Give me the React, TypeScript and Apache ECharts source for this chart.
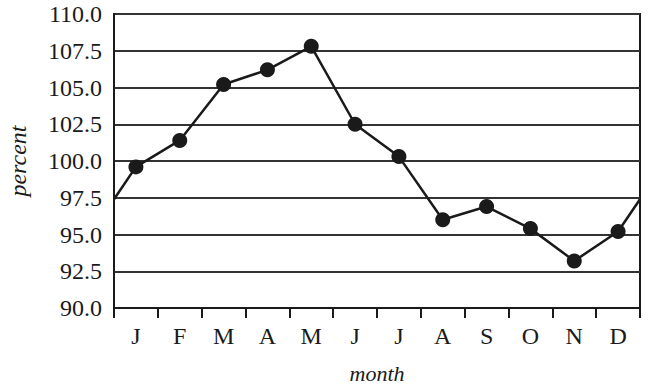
import React, { useEffect, useRef } from "react";
import * as echarts from "echarts";

const months = ["J", "F", "M", "A", "M", "J", "J", "A", "S", "O", "N", "D"];
const values = [99.6, 101.4, 105.2, 106.2, 107.8, 102.5, 100.3, 96.0, 96.9, 95.4, 93.2, 95.2];
// wrap-around value at the left (start of J) and right (end of D) edges
const edgeStart = 97.4;
const edgeEnd = 97.4;
const yTicks = { min: 90, max: 110, interval: 2.5 };

export default function App() {
  const ref = useRef<HTMLDivElement>(null);
  useEffect(() => {
    if (!ref.current) return;
    const chart = echarts.init(ref.current, undefined, { renderer: "svg" });
    const pts: [number, number][] = [[0, edgeStart]];
    values.forEach((v, i) => pts.push([i + 0.5, v]));
    pts.push([months.length, edgeEnd]);
    const font = "'Liberation Serif', 'DejaVu Serif', serif";
    const ink = "#1a1a1a";
    chart.setOption({
      animation: false,
      grid: {
        left: 114, right: 9, top: 14, bottom: 81,
        show: true, borderColor: ink, borderWidth: 2,
        outerBoundsMode: "none", containLabel: false,
      },
      xAxis: [
        {
          type: "value",
          min: 0,
          max: months.length,
          interval: 1,
          axisLine: { show: true, lineStyle: { color: ink, width: 2 } },
          axisTick: { show: true, length: 10, lineStyle: { color: ink, width: 2 } },
          axisLabel: { show: false },
          splitLine: { show: false },
          name: "month",
          nameLocation: "middle",
          nameGap: 54,
          nameTextStyle: { fontFamily: font, fontStyle: "italic", fontSize: 22, color: ink },
        },
        {
          type: "category",
          data: months,
          position: "bottom",
          boundaryGap: true,
          axisLine: { show: false },
          axisTick: { show: false },
          axisLabel: { margin: 16, fontFamily: font, fontSize: 24, color: ink },
          splitLine: { show: false },
        },
      ],
      yAxis: {
        type: "value",
        min: yTicks.min,
        max: yTicks.max,
        interval: yTicks.interval,
        axisLine: { show: true, lineStyle: { color: ink, width: 2 } },
        axisTick: { show: false },
        axisLabel: {
          margin: 12,
          fontFamily: font,
          fontSize: 24,
          color: ink,
          formatter: (v: number) => v.toFixed(1),
        },
        splitLine: { show: true, lineStyle: { color: "#333", width: 2 } },
        name: "percent",
        nameLocation: "middle",
        nameGap: 84,
        nameRotate: 90,
        nameTextStyle: { fontFamily: font, fontStyle: "italic", fontSize: 24, color: ink },
      },
      series: [
        {
          type: "line",
          xAxisIndex: 0,
          data: pts,
          lineStyle: { color: ink, width: 2.5 },
          itemStyle: { color: ink },
          symbol: (_v: any, p: any) => (p.dataIndex === 0 || p.dataIndex === pts.length - 1 ? "none" : "circle"),
          symbolSize: 15,
        },
      ],
    });
    return () => chart.dispose();
  }, []);
  return <div ref={ref} style={{ width: 649, height: 389, position: "absolute", left: 0, top: 0, background: "#fff" }} />;
}
